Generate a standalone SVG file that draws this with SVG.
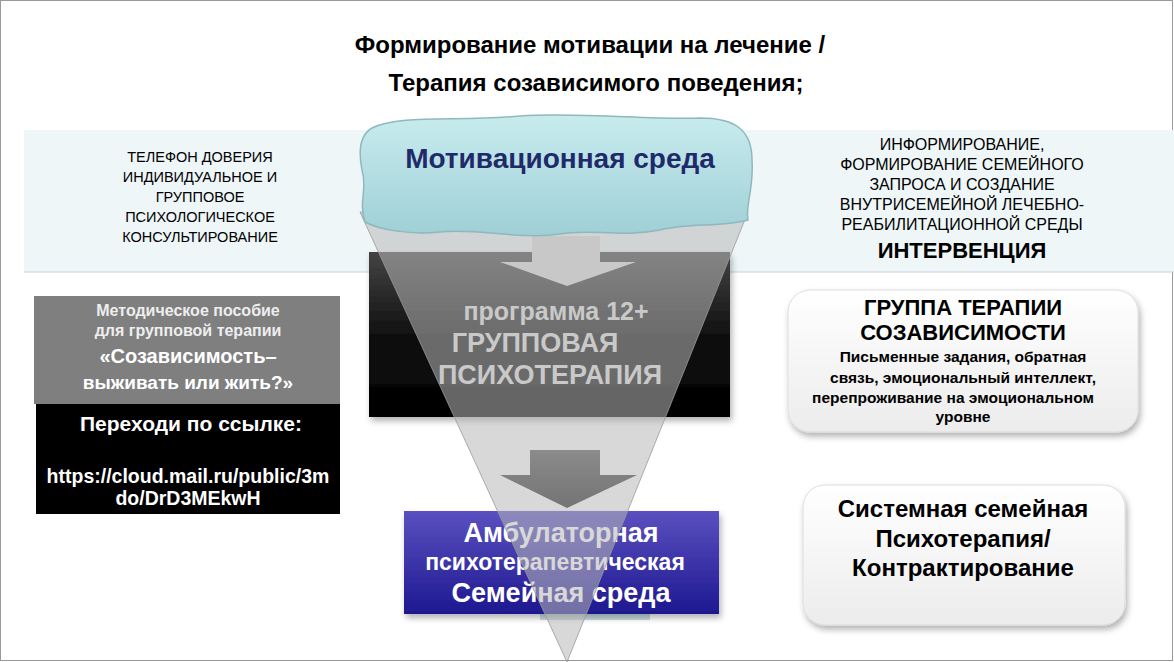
<svg xmlns="http://www.w3.org/2000/svg" width="1174" height="662" viewBox="0 0 1174 662">
<defs>
<style>
text{font-family:"Liberation Sans",Arial,sans-serif;font-weight:bold;text-anchor:middle}
.n{font-weight:normal}
.box{fill:url(#wg);stroke:#ddd;stroke-width:1;filter:url(#sh)}
</style>
<linearGradient id="wg" x1="0" y1="0" x2="0" y2="1"><stop offset="0" stop-color="#fff"/><stop offset="1" stop-color="#ececec"/></linearGradient>
<linearGradient id="bk" x1="0" y1="0" x2="0" y2="1"><stop offset="0" stop-color="#444"/><stop offset="0.5" stop-color="#111"/><stop offset="1" stop-color="#000"/></linearGradient>
<linearGradient id="bl" x1="0" y1="0" x2="0" y2="1"><stop offset="0" stop-color="#5a50c0"/><stop offset="1" stop-color="#1e1890"/></linearGradient>
<linearGradient id="cl" x1="0" y1="0" x2="0" y2="1"><stop offset="0" stop-color="#c8ecee"/><stop offset="1" stop-color="#9fcfd6"/></linearGradient>
<linearGradient id="ar" x1="0" y1="0" x2="0" y2="1"><stop offset="0" stop-color="#555"/><stop offset="1" stop-color="#222"/></linearGradient>
<filter id="sh" x="-10%" y="-10%" width="120%" height="130%"><feDropShadow dx="2" dy="4" stdDeviation="3" flood-color="#000" flood-opacity="0.3"/></filter>
</defs>
<rect width="1174" height="662" fill="#fff"/>
<rect x="0.5" y="0.5" width="1172" height="660" fill="none" stroke="#999"/>
<text x="590" y="53" font-size="24">Формирование мотивации на лечение /</text>
<text x="596" y="91" font-size="24">Терапия созависимого поведения;</text>
<rect x="24" y="130" width="1150" height="142" fill="#eef6f8"/>
<line x1="24" y1="272" x2="1174" y2="272" stroke="#ccd" stroke-width="1"/>
<g id="left-top">
<text class="n" x="200" y="162" font-size="14.5">ТЕЛЕФОН ДОВЕРИЯ</text>
<text class="n" x="200" y="182" font-size="14.5">ИНДИВИДУАЛЬНОЕ  И</text>
<text class="n" x="200" y="202" font-size="14.5">ГРУППОВОЕ</text>
<text class="n" x="200" y="222" font-size="14.5">ПСИХОЛОГИЧЕСКОЕ</text>
<text class="n" x="200" y="242" font-size="14.5">КОНСУЛЬТИРОВАНИЕ</text>
</g>
<g id="right-top">
<text class="n" x="962" y="150" font-size="16">ИНФОРМИРОВАНИЕ,</text>
<text class="n" x="962" y="170" font-size="16">ФОРМИРОВАНИЕ  СЕМЕЙНОГО</text>
<text class="n" x="962" y="190" font-size="16">ЗАПРОСА  И СОЗДАНИЕ</text>
<text class="n" x="962" y="210" font-size="16">ВНУТРИСЕМЕЙНОЙ ЛЕЧЕБНО-</text>
<text class="n" x="962" y="230" font-size="16">РЕАБИЛИТАЦИОННОЙ СРЕДЫ</text>
<text x="962" y="258" font-size="22">ИНТЕРВЕНЦИЯ</text>
</g>
<g id="group12">
<rect x="369" y="252" width="361" height="165" fill="url(#bk)" filter="url(#sh)"/>
<text x="556" y="320" font-size="25" fill="#ddd">программа 12+</text>
<text x="535" y="352" font-size="27" fill="#ddd">ГРУППОВАЯ</text>
<text x="550" y="384" font-size="27" fill="#ddd">ПСИХОТЕРАПИЯ</text>
</g>
<g id="ambul">
<rect x="540" y="605" width="110" height="15" fill="#c8dce0"/>
<rect x="404" y="511" width="315" height="103" fill="url(#bl)" filter="url(#sh)"/>
<text x="561" y="542" font-size="27" fill="#fff">Амбулаторная</text>
<text x="555" y="570" font-size="23" fill="#fff">психотерапевтическая</text>
<text x="561" y="602" font-size="27" fill="#fff">Семейная среда</text>
</g>
<g id="connectors">
<polygon points="530,450 600,450 600,475 637,475 567,508 500,475 530,475" fill="url(#ar)"/>
<polygon points="360,212 748,212 567,662" fill="#b8b8b8" fill-opacity="0.55" stroke="#999" stroke-width="0.8"/>
<polygon points="532,236 600,236 600,262 636,262 567,286 500,262 532,262" fill="#c8c8c8"/>
</g>
<g id="motiv">
<path d="M372,128 C400,114 460,122 520,116 C580,112 650,120 700,118 C735,118 752,130 752,160 C754,190 745,205 748,220 C720,228 690,222 660,230 C620,238 590,228 560,234 C520,240 480,228 440,232 C410,235 380,230 365,222 C358,200 368,190 362,170 C358,150 360,135 372,128 Z" fill="url(#cl)" stroke="#8fb8be" stroke-width="1.5"/>
<text x="560" y="168" font-size="28" fill="#1f2a6a">Мотивационная среда</text>
</g>
<g id="manual">
<rect x="34" y="296" width="306" height="108" fill="#7f7f7f"/>
<text x="188" y="316" font-size="16" fill="#eee">Методическое пособие</text>
<text x="188" y="336" font-size="16" fill="#eee">для групповой терапии</text>
<text x="188" y="363" font-size="20" fill="#fff">«Созависимость–</text>
<text x="188" y="389" font-size="19" fill="#fff">выживать или жить?»</text>
</g>
<g id="link">
<rect x="36" y="404" width="304" height="110" fill="#000"/>
<text x="191" y="431" font-size="21" fill="#fff">Переходи по ссылке:</text>
<text x="188" y="483" font-size="19.5" fill="#fff">https://cloud.mail.ru/public/3m</text>
<text x="188" y="505" font-size="19.5" fill="#fff">do/DrD3MEkwH</text>
</g>
<g id="codep">
<rect class="box" x="788" y="290" width="350" height="142" rx="22"/>
<text x="963" y="315" font-size="22">ГРУППА ТЕРАПИИ</text>
<text x="963" y="340" font-size="22">СОЗАВИСИМОСТИ</text>
<text x="963" y="362" font-size="15.5">Письменные  задания, обратная</text>
<text x="963" y="383" font-size="15.5">связь,  эмоциональный  интеллект,</text>
<text x="953" y="403" font-size="15.5">перепроживание  на эмоциональном</text>
<text x="963" y="422" font-size="15.5">уровне</text>
</g>
<g id="system">
<rect class="box" x="803" y="485" width="322" height="140" rx="22"/>
<text x="963" y="517" font-size="24">Системная  семейная</text>
<text x="963" y="547" font-size="24">Психотерапия/</text>
<text x="963" y="576" font-size="24">Контрактирование</text>
</g>
</svg>
